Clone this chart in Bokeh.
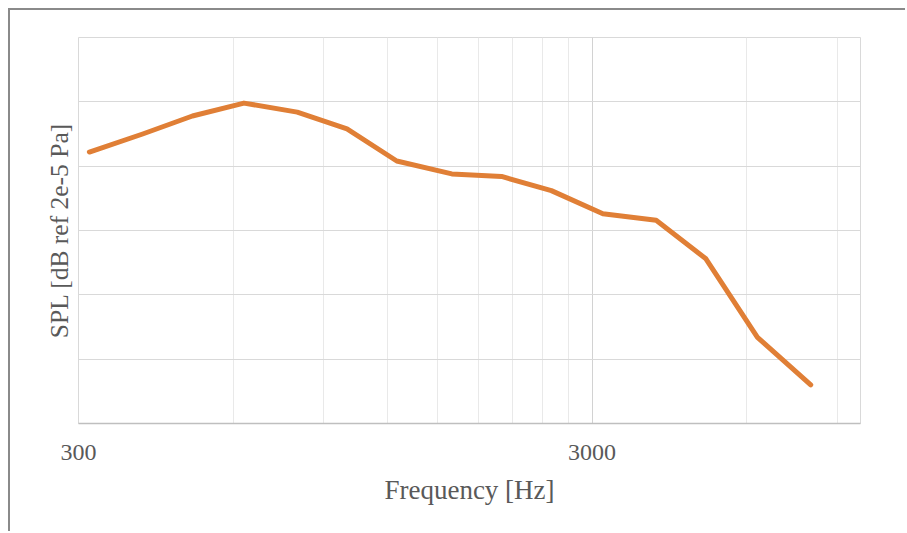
from bokeh.plotting import figure
from bokeh.models import FixedTicker, CustomJSTickFormatter, Range1d
from bokeh.embed import file_html
from bokeh.resources import INLINE

freqs = [315, 400, 500, 630, 800, 1000, 1250, 1600, 2000, 2500, 3150, 4000, 5000, 6300, 8000]
spl = [81.1, 82.5, 83.9, 84.9, 84.2, 82.9, 80.4, 79.4, 79.2, 78.1, 76.3, 75.8, 72.8, 66.7, 63.0]
x_major = [300, 3000]
x_minor = [600, 900, 1200, 1500, 1800, 2100, 2400, 2700, 6000, 9000]
y_grid = [60, 65, 70, 75, 80, 85, 90]

FONT = "Liberation Serif"
TXT = "#595959"

p = figure(width=897, height=523, x_axis_type="log",
           x_range=Range1d(300, 10000), y_range=Range1d(60, 90),
           output_backend="svg", toolbar_location=None,
           min_border_left=68, min_border_right=47, min_border_top=27, min_border_bottom=110)
p.styles = {"margin-left": "8px", "margin-top": "8px",
            "border-left": "2px solid #8a8a8a", "border-top": "2px solid #8a8a8a"}

p.outline_line_color = "#d9d9d9"
p.background_fill_color = "white"
p.border_fill_color = "white"

p.xaxis.ticker = FixedTicker(ticks=x_major, minor_ticks=x_minor)
p.xaxis.formatter = CustomJSTickFormatter(code="return tick.toFixed(0)")
p.yaxis.ticker = FixedTicker(ticks=[])
p.ygrid.ticker = FixedTicker(ticks=y_grid)

p.xgrid.grid_line_color = "#d2d2d2"
p.xgrid.minor_grid_line_color = "#e9e9e9"
p.ygrid.grid_line_color = "#d9d9d9"

p.xaxis.axis_line_color = "#bfbfbf"
p.xaxis.axis_line_width = 1.5
p.xaxis.major_tick_line_color = None
p.xaxis.minor_tick_line_color = None
p.xaxis.major_label_text_font = FONT
p.xaxis.major_label_text_font_size = "24px"
p.xaxis.major_label_text_color = TXT
p.xaxis.major_label_standoff = 15
p.xaxis.axis_label = "Frequency [Hz]"
p.xaxis.axis_label_text_font = FONT
p.xaxis.axis_label_text_font_size = "27px"
p.xaxis.axis_label_text_font_style = "normal"
p.xaxis.axis_label_text_color = TXT
p.xaxis.axis_label_standoff = 12

p.yaxis.axis_line_color = None
p.yaxis.major_tick_line_color = None
p.yaxis.minor_tick_line_color = None
p.yaxis.axis_label = "SPL [dB ref 2e-5 Pa]"
p.yaxis.axis_label_text_font = FONT
p.yaxis.axis_label_text_font_size = "25.5px"
p.yaxis.axis_label_text_font_style = "normal"
p.yaxis.axis_label_text_color = TXT
p.yaxis.axis_label_standoff = 5

p.line(freqs, spl, line_color="#E07F36", line_width=5, line_cap="round", line_join="round")

open("out.html", "w").write(file_html(p, INLINE))
